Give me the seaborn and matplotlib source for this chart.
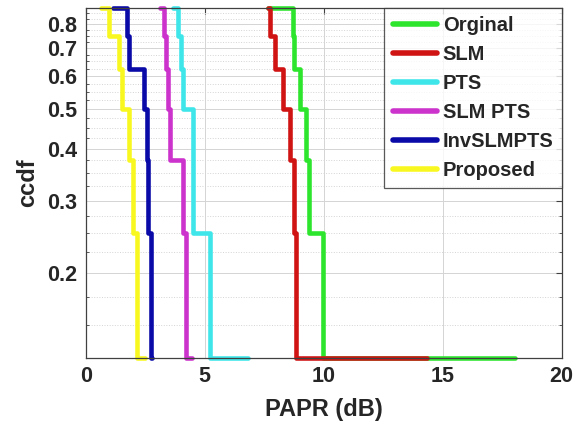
import numpy as np
import pandas as pd
import matplotlib
matplotlib.use("Agg")
import matplotlib.pyplot as plt
import seaborn as sns

# ccdf levels (7/8 ... 1/8)
levels = [0.875, 0.75, 0.625, 0.5, 0.375, 0.25, 0.125]

# PAPR (dB) where each level starts / drops, last value = end of bottom segment
orginal = [7.66, 8.71, 8.76, 9.00, 9.26, 9.39, 9.97, 18.04]
slm = [7.66, 7.75, 7.96, 8.30, 8.59, 8.76, 8.84, 14.34]
pts = [3.68, 3.89, 4.02, 4.10, 4.52, 4.52, 5.23, 6.82]
slm_pts = [3.13, 3.29, 3.38, 3.46, 3.54, 4.09, 4.21, 4.47]
inv_slmpts = [1.13, 1.74, 1.82, 2.45, 2.58, 2.62, 2.75, 2.79]
proposed = [0.63, 0.97, 1.39, 1.51, 1.81, 1.99, 2.16, 2.49]

names = ['Orginal', 'SLM', 'PTS', 'SLM PTS', 'InvSLMPTS', 'Proposed']
series = [orginal, slm, pts, slm_pts, inv_slmpts, proposed]
colors = ['#2ee52e', '#d01414', '#3ee6ea', '#cc33cc', '#0a0aa8', '#f8f820']

rows = []
for name, xs in zip(names, series):
    k = 0
    for i, lv in enumerate(levels):
        rows.append((name, k, xs[i], lv))
        rows.append((name, k + 1, xs[i + 1], lv))
        k += 2
df = pd.DataFrame(rows, columns=['method', 'order', 'papr', 'ccdf'])

sns.set_style("white")
plt.rcParams['font.family'] = ['Liberation Sans', 'DejaVu Sans']
plt.rcParams['font.weight'] = 'bold'

fig = plt.figure(figsize=(5.84, 4.30), dpi=100)
ax = fig.add_axes([0.1467, 0.1674, 0.8151, 0.814])

sns.lineplot(data=df, x='papr', y='ccdf', hue='method', units='method',
             estimator=None, sort=False, palette=dict(zip(names, colors)),
             hue_order=names, linewidth=3.3, ax=ax, legend=False)
for ln in ax.lines:
    ln.set_clip_on(False)

ax.set_yscale('log')
ax.set_xlim(0, 20)
ax.set_ylim(0.125, 0.875)
ax.set_xticks([0, 5, 10, 15, 20])
yt = [0.2, 0.3, 0.4, 0.5, 0.6, 0.7, 0.8]
ax.set_yticks(yt)
ax.set_yticklabels([str(v) for v in yt])
minor = [v for v in np.arange(0.125, 0.876, 0.025) if min(abs(v - t) for t in yt) > 1e-6]
ax.set_yticks(minor, minor=True)
ax.yaxis.set_minor_formatter(matplotlib.ticker.NullFormatter())

ax.grid(True, which='major', color='#d4d4d4', linewidth=0.7, linestyle='-')
ax.grid(True, which='minor', axis='y', color='#d4d4d4', linewidth=0.7, linestyle=':')
ax.set_axisbelow(True)

ax.tick_params(axis='both', which='major', direction='in', length=4, labelsize=15.5,
               top=True, right=True, color='#404040', pad=6)
ax.tick_params(axis='y', which='minor', direction='in', length=2, left=True, right=True,
               color='#404040')
for s in ax.spines.values():
    s.set_color('#404040')
    s.set_linewidth(0.9)

ax.set_xlabel('PAPR (dB)', fontsize=17, fontweight='bold', labelpad=8)
ax.set_ylabel('ccdf', fontsize=17, fontweight='bold', labelpad=6)

handles = [plt.Line2D([], [], color=c, linewidth=4) for c in colors]
leg = ax.legend(handles, names, loc='upper right', fontsize=14.5, frameon=True,
                fancybox=False, borderaxespad=0, handlelength=2.2,
                handletextpad=0.3, labelspacing=0.5, borderpad=0.4)
leg.get_frame().set_edgecolor('#303030')
leg.get_frame().set_linewidth(0.9)
for t in leg.get_texts():
    t.set_fontweight('bold')

fig.savefig('out.png', dpi=100)
